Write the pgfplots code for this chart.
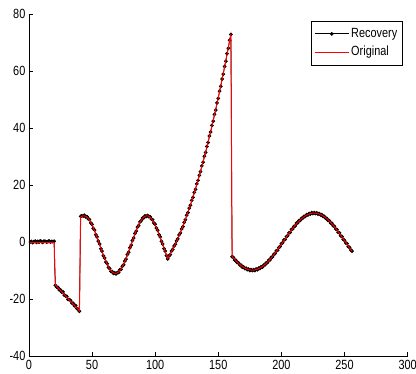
\documentclass[border=0pt]{standalone}
\usepackage{fontspec}
\setmainfont{Liberation Sans}[FakeStretch=0.82]
\usepackage{pgfplots}
\pgfplotsset{compat=1.18}
\usepackage{pgfplotstable}

\pgfplotstableread{
x o r
1 0 0.1
2 0 0.3
3 0 -0.1
4 0 0.2
5 0 0.4
6 0 0.0
7 0 0.3
8 0 0.1
9 0 0.5
10 0 0.2
11 0 0.0
12 0 0.4
13 0 0.3
14 0 0.1
15 0 0.2
16 0 0.5
17 0 0.1
18 0 0.3
19 0 0.2
20 0 0.4
20.5 -10.3 nan
21 -15.00 -15.1
22 -15.47 -15.7
23 -15.95 -15.8
24 -16.42 -16.7
25 -16.89 -16.7
26 -17.37 -17.5
27 -17.84 -17.4
28 -18.32 -18.5
29 -18.79 -18.8
30 -19.26 -19.0
31 -19.74 -20.0
32 -20.21 -20.1
33 -20.68 -20.4
34 -21.16 -21.3
35 -21.63 -21.4
36 -22.11 -22.3
37 -22.58 -22.2
38 -23.05 -23.2
39 -23.53 -23.5
40 -24.00 -24.2
40.33 -15.6 nan
40.67 0.8 nan
41 8.81 9.1
42 9.12 9.3
43 9.28 9.2
44 9.28 9.5
45 9.12 8.9
46 8.81 9.0
47 8.34 8.2
48 7.73 8.0
49 6.98 6.8
50 6.11 6.3
51 5.14 4.9
52 4.07 4.3
53 2.92 2.7
54 1.71 1.9
55 0.47 0.4
56 -0.80 -0.6
57 -2.07 -2.3
58 -3.31 -3.1
59 -4.52 -4.7
60 -5.67 -5.5
61 -6.74 -6.9
62 -7.71 -7.5
63 -8.58 -8.8
64 -9.33 -9.2
65 -9.94 -10.2
66 -10.41 -10.3
67 -10.72 -10.9
68 -10.88 -10.7
69 -10.88 -11.1
70 -10.72 -10.6
71 -10.41 -10.6
72 -9.94 -9.7
73 -9.33 -9.5
74 -8.58 -8.4
75 -7.71 -7.9
76 -6.74 -6.6
77 -5.67 -5.9
78 -4.52 -4.3
79 -3.31 -3.5
80 -2.07 -1.9
81 -0.80 -1.0
82 0.47 0.6
83 1.71 1.5
84 2.92 3.1
85 4.07 3.9
86 5.14 5.3
87 6.11 5.9
88 6.98 7.2
89 7.73 7.6
90 8.34 8.5
91 8.81 8.6
92 9.12 9.3
93 9.28 9.1
94 9.28 9.4
95 9.12 9.0
96 8.81 9.0
97 8.34 8.2
98 7.73 7.9
99 6.98 6.8
100 6.11 6.3
101 5.14 5.0
102 4.07 4.2
103 2.92 2.7
104 1.71 1.9
105 0.47 0.3
106 -0.80 -0.6
107 -2.07 -2.2
108 -3.31 -3.1
109 -4.52 -4.7
110 -5.67 -5.8
111 -4.90 -4.8
112 -4.10 -4.3
113 -3.27 -3.1
114 -2.41 -2.5
115 -1.51 -1.3
116 -0.58 -0.7
117 0.39 0.5
118 1.39 1.2
119 2.42 2.6
120 3.48 3.3
121 4.58 4.7
122 5.71 5.5
123 6.87 7.0
124 8.06 7.9
125 9.29 9.5
126 10.55 10.4
127 11.85 12.0
128 13.18 13.0
129 14.54 14.7
130 15.93 15.8
131 17.36 17.5
132 18.82 18.6
133 20.31 20.5
134 21.83 21.7
135 23.39 23.5
136 24.98 24.8
137 26.61 26.8
138 28.27 28.1
139 29.96 30.2
140 31.68 31.5
141 33.44 33.6
142 35.23 35.0
143 37.05 37.3
144 38.90 38.7
145 40.79 41.0
146 42.71 42.5
147 44.67 44.9
148 46.66 46.4
149 48.68 48.9
150 50.73 50.5
151 52.82 53.0
152 54.94 54.7
153 57.09 57.3
154 59.27 59.0
155 61.49 61.7
156 63.74 63.5
157 66.03 66.2
158 68.35 68.1
159 70.70 70.9
160 73.08 72.9
160.33 53 nan
160.67 14 nan
161 -4.93 -5.1
162 -5.47 -5.3
163 -5.99 -6.2
164 -6.48 -6.3
165 -6.93 -7.1
166 -7.37 -7.2
167 -7.77 -7.9
168 -8.13 -8.0
169 -8.46 -8.7
170 -8.76 -8.6
171 -9.02 -9.2
172 -9.24 -9.1
173 -9.42 -9.6
174 -9.57 -9.4
175 -9.67 -9.9
176 -9.73 -9.6
177 -9.75 -9.9
178 -9.73 -9.6
179 -9.67 -9.9
180 -9.57 -9.4
181 -9.42 -9.6
182 -9.24 -9.1
183 -9.02 -9.2
184 -8.76 -8.6
185 -8.46 -8.7
186 -8.13 -8.0
187 -7.77 -7.9
188 -7.37 -7.2
189 -6.93 -7.1
190 -6.48 -6.3
191 -5.99 -6.2
192 -5.47 -5.3
193 -4.93 -5.1
194 -4.38 -4.2
195 -3.80 -4.0
196 -3.21 -3.0
197 -2.60 -2.8
198 -1.98 -1.8
199 -1.35 -1.5
200 -0.71 -0.5
201 -0.07 -0.2
202 0.57 0.8
203 1.21 1.0
204 1.84 2.0
205 2.47 2.3
206 3.09 3.3
207 3.70 3.5
208 4.30 4.5
209 4.87 4.7
210 5.43 5.6
211 5.97 5.8
212 6.48 6.7
213 6.97 6.8
214 7.43 7.6
215 7.86 7.7
216 8.26 8.4
217 8.63 8.5
218 8.96 9.1
219 9.26 9.1
220 9.52 9.7
221 9.74 9.6
222 9.92 10.1
223 10.07 9.9
224 10.17 10.4
225 10.23 10.1
226 10.25 10.4
227 10.23 10.1
228 10.17 10.3
229 10.07 9.9
230 9.92 10.1
231 9.74 9.6
232 9.52 9.7
233 9.26 9.1
234 8.97 9.1
235 8.63 8.5
236 8.27 8.4
237 7.87 7.7
238 7.44 7.6
239 6.98 6.8
240 6.49 6.7
241 5.98 5.8
242 5.44 5.6
243 4.88 4.7
244 4.30 4.5
245 3.71 3.5
246 3.10 3.3
247 2.48 2.3
248 1.85 2.0
249 1.22 1.0
250 0.58 0.7
251 -0.06 -0.2
252 -0.70 -0.5
253 -1.34 -1.5
254 -1.97 -1.8
255 -2.59 -2.7
256 -3.20 -3.1
}\datatable

\begin{document}
\begin{tikzpicture}
\begin{axis}[
  scale only axis,
  width=378.7pt, height=342pt,
  xmin=0, xmax=300, ymin=-40, ymax=80,
  axis x line*=bottom, axis y line*=left,
  xtick={0,50,...,300}, ytick={-40,-20,...,80},
  tick align=inside, major tick length=4pt,
  tick style={black, line width=0.6pt},
  axis line style={black, line width=0.6pt},
  every tick label/.append style={font=\fontsize{13.3}{15}\selectfont},
  /pgf/number format/assume math mode=true,
  clip marker paths=true,
  legend cell align=left,
  legend style={
    at={(1,1)}, anchor=north east, xshift=-5pt, yshift=-6.5pt,
    draw=black, line width=0.6pt, fill=white,
    font=\fontsize{13.3}{15}\selectfont,
    inner xsep=3pt, inner ysep=4pt, row sep=1pt,
    nodes={inner sep=2pt, text height=10pt, text depth=3.5pt}
  },
  legend image code/.code={
    \draw[mark repeat=2, mark phase=2, #1]
      plot coordinates {(0pt,0pt) (17pt,0pt) (34pt,0pt)};
  },
]
\addplot[black, line width=0.7pt, mark=*, mark size=1.5pt,
  mark options={solid, fill=black}] table[x=x, y=r] {\datatable};
\addlegendentry{Recovery}
\addplot[red, line width=1.0pt] table[x=x, y=o] {\datatable};
\addlegendentry{Original}
\end{axis}
\pgfresetboundingbox
\path ([xshift=-28.9pt,yshift=-17.7pt]current axis.south west) rectangle ++(416pt,374pt);
\end{tikzpicture}
\end{document}
